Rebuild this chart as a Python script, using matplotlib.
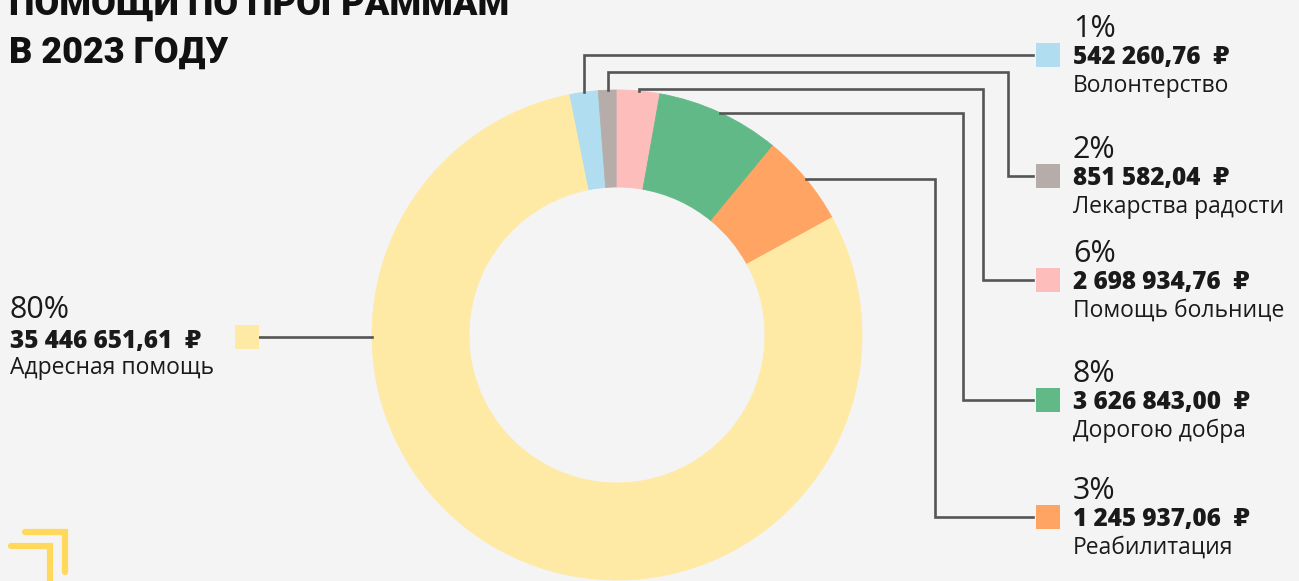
import matplotlib
matplotlib.use("Agg")
import matplotlib.pyplot as plt
import numpy as np

# Ring as drawn (clockwise from the blue slice)
slice_values = [851582.04, 542260.76, 1245937.06, 3626843.00, 2698934.76, 35446651.61]
slice_colors = ["#B1DDF1", "#B6ADAA", "#FCBDBB", "#61B987", "#FFA462", "#FFEAA5"]

# Legend entries (right column, top to bottom) + left entry
programs = ["Волонтерство", "Лекарства радости", "Помощь больнице", "Дорогою добра", "Реабилитация"]
amounts = [542260.76, 851582.04, 2698934.76, 3626843.00, 1245937.06]
percents = [1, 2, 6, 8, 3]
legend_colors = ["#B1DDF1", "#B6ADAA", "#FCBDBB", "#61B987", "#FFA462"]

main_program = "Адресная помощь"
main_amount = 35446651.61
main_percent = 80
main_color = "#FFEAA5"

title_lines = ["ПОМОЩИ ПО ПРОГРАММАМ", "В 2023 ГОДУ"]

plt.rcParams["font.family"] = ["Open Sans", "DejaVu Sans"]

W, H = 1299, 581
BG = "#F4F4F4"
LINE = "#555555"
TXT = "#1a1a1a"


def Y(y):
    # pixel row (from top) -> data y
    return H - y


def money(v):
    return f"{v:,.2f}".replace(",", " ").replace(".", ",") + "  ₽"


fig = plt.figure(figsize=(W / 100, H / 100), dpi=100, facecolor=BG)
ax = fig.add_axes([0, 0, 1, 1])
ax.set_facecolor(BG)

cx, cy, R = 617, 335, 245
wedges, _ = ax.pie(slice_values, colors=slice_colors, startangle=101.3, counterclock=False,
                   radius=R, center=(cx, Y(cy)),
                   wedgeprops=dict(width=97, linewidth=0.6))
for w, c in zip(wedges, slice_colors):
    w.set_edgecolor(c)
ax.set_xlim(0, W)
ax.set_ylim(0, H)
ax.set_aspect("equal")
ax.axis("off")

# title (first line is cut by the top edge, as in the source)
tfont = ["Roboto", "DejaVu Sans"]
ax.text(9, Y(15), title_lines[0], fontsize=26, fontweight="black", color="#111111",
        va="baseline", family=tfont)
ax.text(9, Y(63), title_lines[1], fontsize=26, fontweight="black", color="#111111",
        va="baseline", family=tfont)

# right column layout
row_y = [55, 176, 280, 400, 517]
level_y = [55, 72, 89, None, None]
elbow_x = [1033, 1008, 983, 963, 935]
mx, ms = 1036, 24
tx = 1073

for i, w in enumerate(wedges[:5]):
    mid = np.deg2rad((w.theta1 + w.theta2) / 2)
    axp = cx + R * np.cos(mid)
    ayp = cy - R * np.sin(mid)
    lv = level_y[i] if level_y[i] is not None else ayp
    xs = [axp, axp, elbow_x[i], elbow_x[i], mx - 3]
    ys = [ayp, lv, lv, row_y[i], row_y[i]]
    ax.plot(xs, [Y(v) for v in ys], color=LINE, lw=1.9, solid_joinstyle="miter", zorder=1)

for i in range(5):
    r = row_y[i]
    ax.add_patch(plt.Rectangle((mx, Y(r + ms / 2)), ms, ms, color=legend_colors[i], lw=0))
    base = r + 9
    ax.text(tx, Y(base - 27), f"{percents[i]}%", fontsize=22, fontweight="normal",
            color=TXT, va="baseline")
    ax.text(tx, Y(base), money(amounts[i]), fontsize=17.5, fontweight="extra bold",
            color=TXT, va="baseline")
    ax.text(tx, Y(base + 28), programs[i], fontsize=16.5, fontweight="normal",
            color=TXT, va="baseline")

# left entry
ly = 337
ax.plot([259, cx - R], [Y(ly), Y(ly)], color=LINE, lw=1.9, zorder=1)
ax.add_patch(plt.Rectangle((235, Y(ly + 12)), 24, 24, color=main_color, lw=0))
ax.text(10, Y(318), f"{main_percent}%", fontsize=22, fontweight="normal", color=TXT, va="baseline")
ax.text(10, Y(348), money(main_amount), fontsize=17.5, fontweight="extra bold", color=TXT, va="baseline")
ax.text(10, Y(374), main_program, fontsize=16.5, fontweight="normal", color=TXT, va="baseline")

# corner logo
logo = "#FFD85C"
ax.plot([25, 65, 65], [Y(532), Y(532), Y(572)], color=logo, lw=4.5, solid_capstyle="round",
        solid_joinstyle="miter")
ax.plot([11, 50, 50], [Y(546), Y(546), Y(590)], color=logo, lw=4.5, solid_capstyle="round",
        solid_joinstyle="miter")

fig.savefig("out.png", dpi=100, facecolor=BG)
